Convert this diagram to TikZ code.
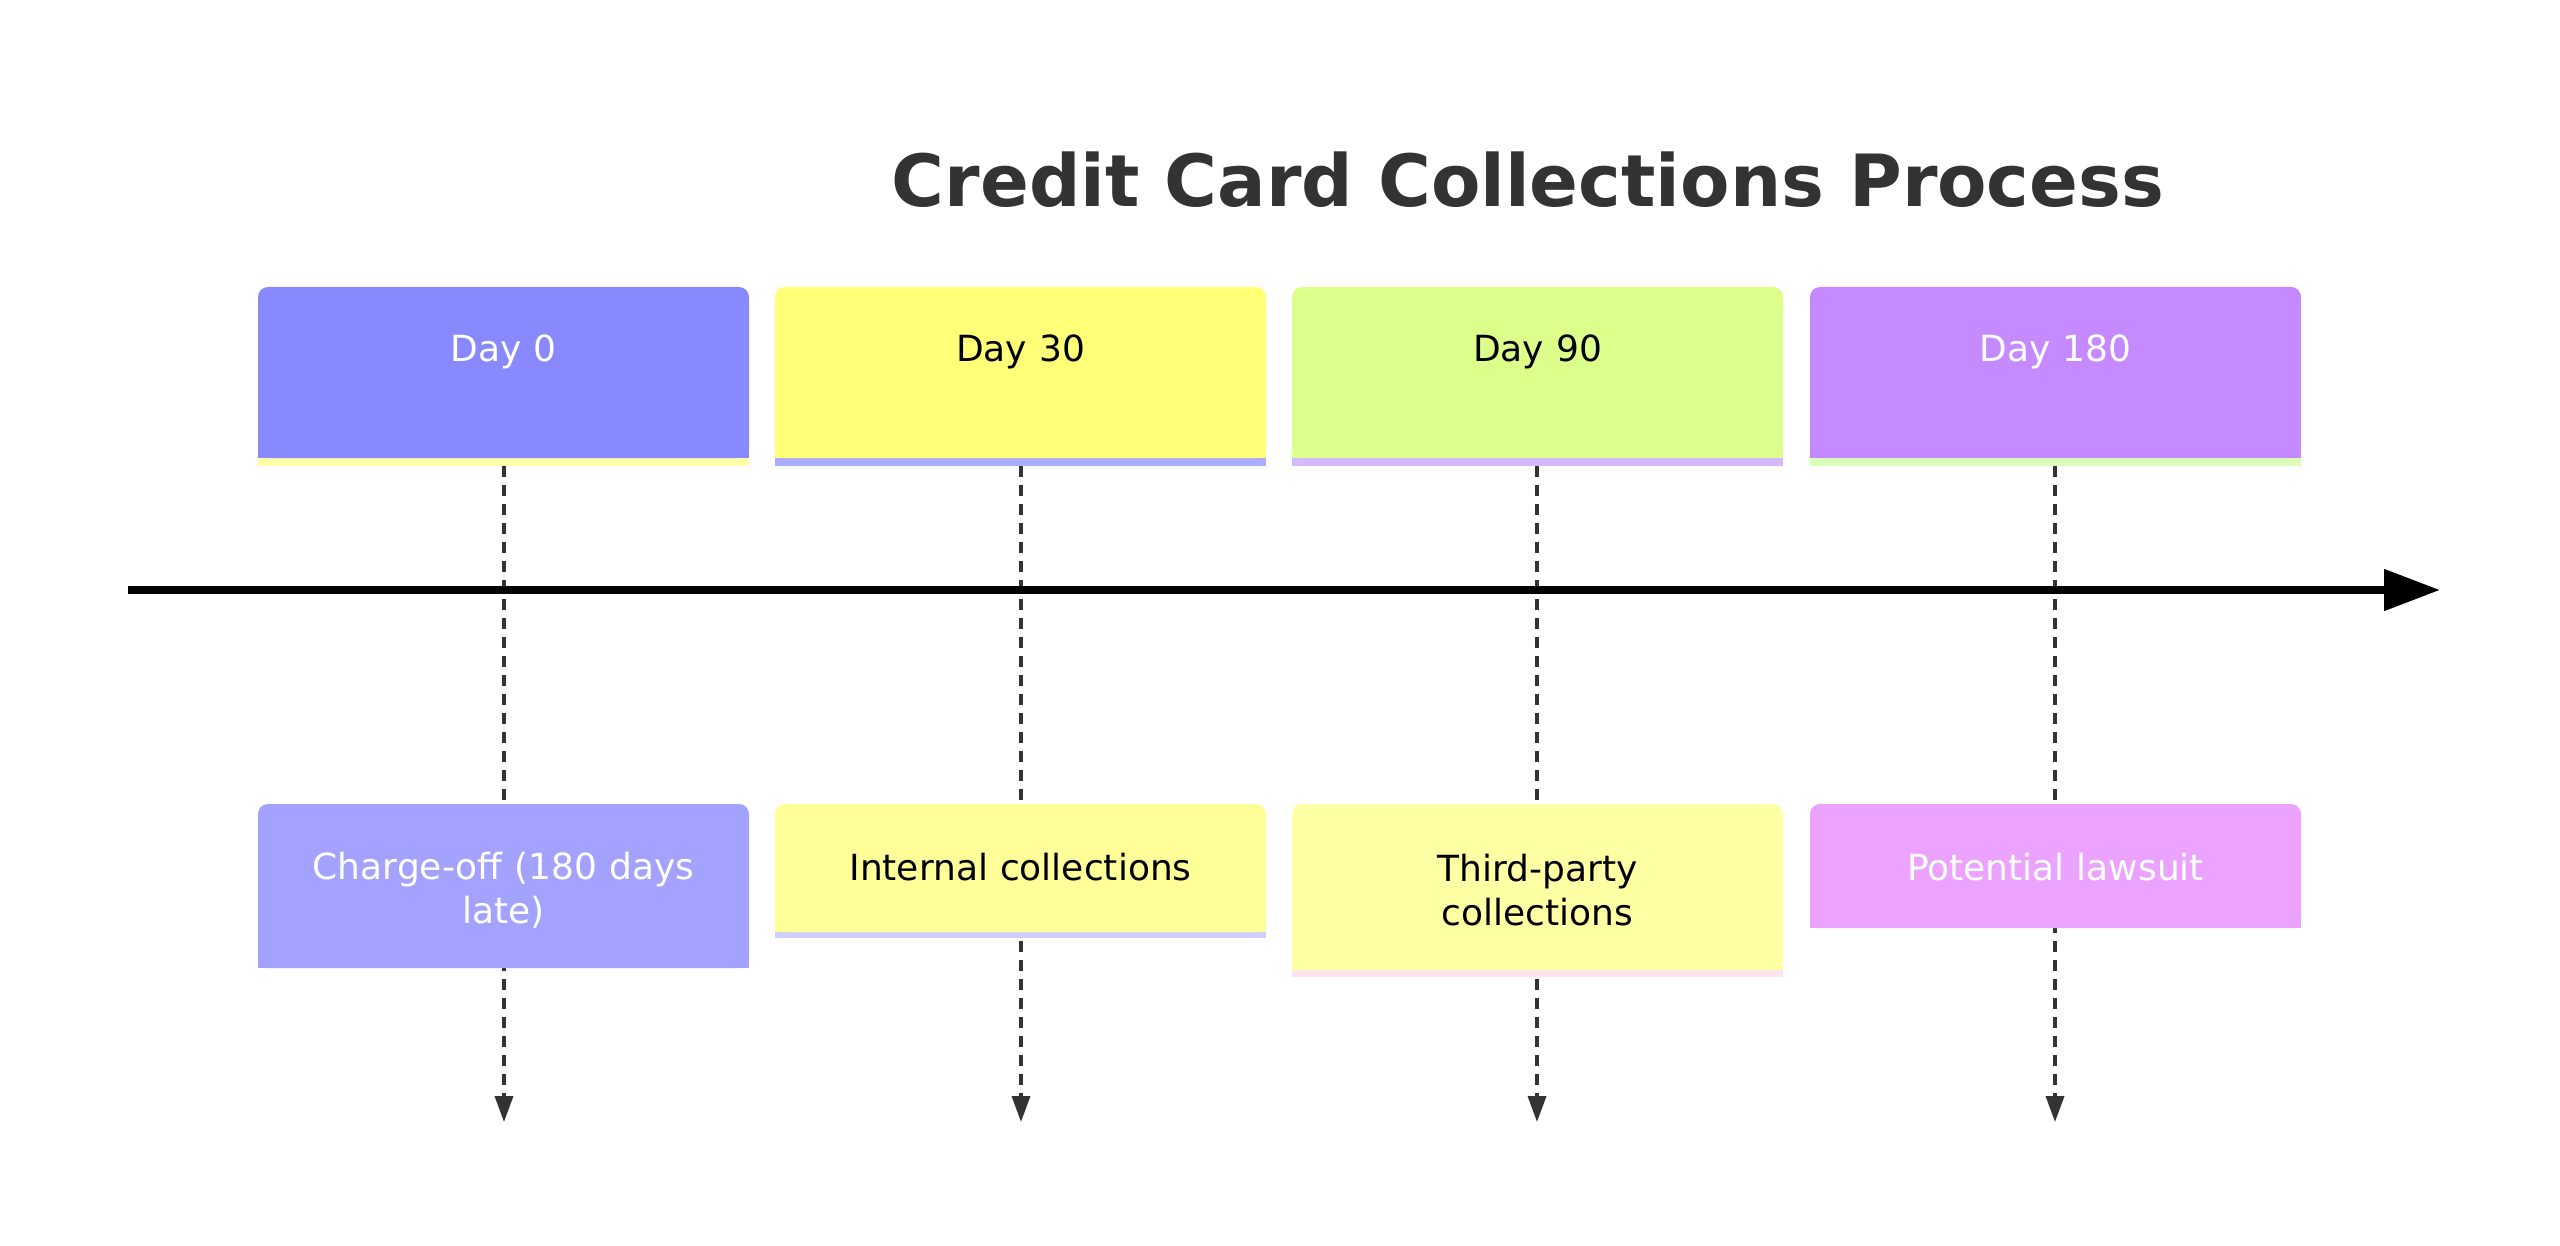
\documentclass[tikz,border=0pt]{standalone}
\usepackage{fontspec}
\setmainfont{DejaVu Sans}
\usetikzlibrary{arrows.meta}
\definecolor{txt}{HTML}{333333}
\begin{document}
\begin{tikzpicture}[x=1pt,y=-1pt,
  lbl/.style={font=\fontsize{36}{44}\selectfont, align=center, text width=440pt},
  dline/.style={line width=3.5pt, dash pattern=on 11pt off 8pt, -{Triangle[length=26pt,width=18pt]}, txt}]
\useasboundingbox[fill=white] (0,0) rectangle (2560,1246);
\node[font=\fontsize{72}{84}\selectfont\bfseries, txt] (title) at (1528,180) {Credit Card Collections Process};
% dashed lines
\foreach \x/\n in {504/a,1021/b,1537/c,2055/d}{
  \coordinate (t\n) at (\x,466);
  \coordinate (e\n) at (\x,1122);
  \draw[dline] (t\n) -- (e\n);
}
% main arrow
\coordinate (ms) at (128,590);
\coordinate (me) at (2440,590);
\draw[line width=8pt, -{Triangle[length=56pt,width=40pt]}] (ms) -- (me);
% top boxes
\foreach \x/\c/\u/\t/\tc in {258/8888FF/FFFFAA/Day 0/white, 775/FFFF78/ABABFF/Day 30/black, 1292/DBFF8A/D6B8FF/Day 90/black, 1810/C58AFF/DCFFB8/Day 180/white}{
  \definecolor{cc}{HTML}{\c}\definecolor{uu}{HTML}{\u}
  \fill[uu] (\x,458) rectangle ++(491,8);
  \fill[cc, rounded corners=10pt] (\x,287) rectangle (\x+491,458);
  \fill[cc] (\x,330) rectangle (\x+491,458);
  \node[lbl, text=\tc] at (\x+245.5,352) {\t};
}
% bottom boxes
\definecolor{b1}{HTML}{A3A3FF}\definecolor{b2}{HTML}{FFFF99}\definecolor{b3}{HTML}{FFFFA3}\definecolor{b4}{HTML}{EBA3FF}
\definecolor{u2}{HTML}{CFCFFF}\definecolor{u3}{HTML}{FFE3F3}
\fill[b1, rounded corners=10pt] (258,804) rectangle (749,968);
\fill[b1] (258,850) rectangle (749,968);
\node[lbl, text=white] (n1) at (503.5,890) {Charge-off (180 days\\late)};
\fill[u2] (775,932) rectangle (1266,938);
\fill[b2, rounded corners=10pt] (775,804) rectangle (1266,932);
\fill[b2] (775,850) rectangle (1266,932);
\node[lbl, text=black] (n2) at (1020.5,867) {Internal collections};
\fill[u3] (1292,970) rectangle (1783,977);
\fill[b3, rounded corners=10pt] (1292,804) rectangle (1783,970);
\fill[b3] (1292,850) rectangle (1783,970);
\node[lbl, text=black] (n3) at (1537.5,890) {Third-party\\collections};
\fill[b4, rounded corners=10pt] (1810,804) rectangle (2301,928);
\fill[b4] (1810,850) rectangle (2301,928);
\node[lbl, text=white] (n4) at (2055.5,867) {Potential lawsuit};
\end{tikzpicture}
\end{document}
